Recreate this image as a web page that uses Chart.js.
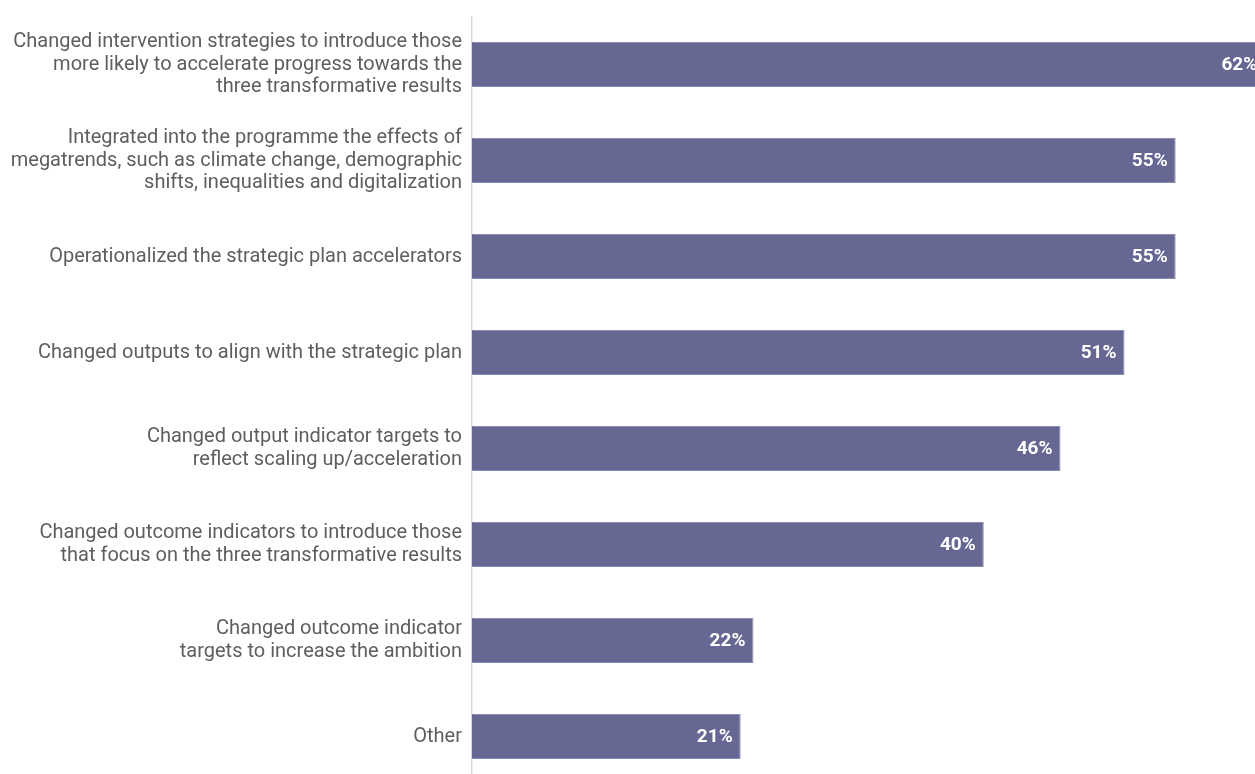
<!DOCTYPE html>
<html>
<head>
    <title>Programme changes</title>
    <script src="https://cdn.jsdelivr.net/npm/chart.js"></script>
    <style>
        body {
            margin: 0;
            background: #ffffff;
            overflow: hidden;
        }
        .chart-container {
            position: relative;
            width: 1255px;
            height: 785px;
        }
    </style>
</head>
<body>
    <div class="chart-container">
        <canvas id="changesChart"></canvas>
    </div>

    <script>
        var categories = [
            ['Changed intervention strategies to introduce those', 'more likely to accelerate progress towards the', 'three transformative results'],
            ['Integrated into the programme the effects of', 'megatrends, such as climate change, demographic', 'shifts, inequalities and digitalization'],
            'Operationalized the strategic plan accelerators',
            'Changed outputs to align with the strategic plan',
            ['Changed output indicator targets to', 'reflect scaling up/acceleration'],
            ['Changed outcome indicators to introduce those', 'that focus on the three transformative results'],
            ['Changed outcome indicator', 'targets to increase the ambition'],
            'Other'
        ];
        var percentages = [62, 55, 55, 51, 46, 40, 22, 21];

        // writes the percentage inside the end of each bar
        var valueLabels = {
            id: 'valueLabels',
            afterDatasetsDraw: function(chart) {
                var ctx = chart.ctx;
                var meta = chart.getDatasetMeta(0);
                ctx.save();
                ctx.font = 'bold 19px Roboto';
                ctx.fillStyle = '#ffffff';
                ctx.textAlign = 'right';
                ctx.textBaseline = 'middle';
                meta.data.forEach(function(bar, i) {
                    ctx.fillText(percentages[i] + '%', bar.x - 8, bar.y + 1);
                });
                ctx.restore();
            }
        };

        new Chart(document.getElementById('changesChart').getContext('2d'), {
            type: 'bar',
            data: {
                labels: categories,
                datasets: [{
                    data: percentages,
                    backgroundColor: '#676793',
                    borderColor: '#8b8bae',
                    borderWidth: 1,
                    categoryPercentage: 1,
                    barPercentage: 0.47
                }]
            },
            options: {
                indexAxis: 'y',
                responsive: true,
                maintainAspectRatio: false,
                animation: false,
                layout: {
                    padding: { top: 16.5, bottom: 0.5, left: 0, right: 0 }
                },
                plugins: {
                    legend: { display: false },
                    tooltip: { enabled: false }
                },
                scales: {
                    x: {
                        display: false,
                        min: 0,
                        max: 61.2
                    },
                    y: {
                        afterFit: function(scale) {
                            scale.width = 472;
                            // keep the multi-line labels from shrinking the plot
                            scale.paddingTop = 0;
                            scale.paddingBottom = 0;
                        },
                        grid: { display: false, drawTicks: false },
                        border: { color: '#d9d9d9', width: 1.5 },
                        ticks: {
                            autoSkip: false,
                            padding: 10,
                            color: '#5e5e5e',
                            font: { family: 'Roboto', size: 20, lineHeight: 1.125 }
                        }
                    }
                }
            },
            plugins: [valueLabels]
        });
    </script>
</body>
</html>
